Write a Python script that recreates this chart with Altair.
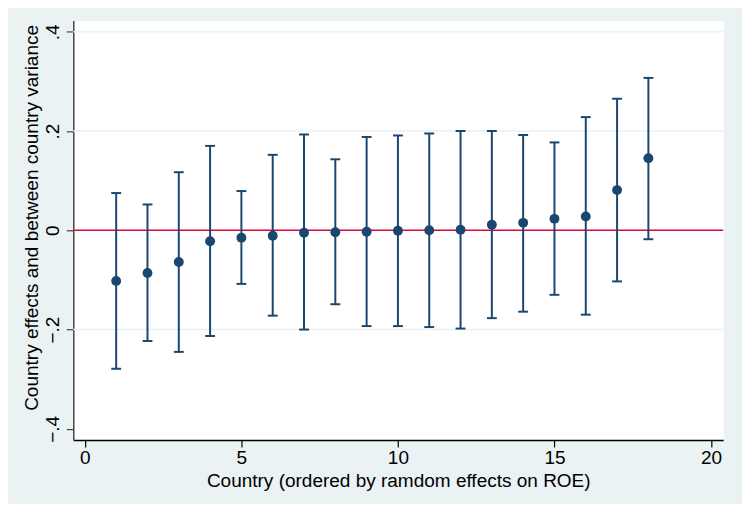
import altair as alt
import pandas as pd

country = list(range(1, 19))
estimate = [-0.102, -0.086, -0.064, -0.022, -0.015, -0.011, -0.005, -0.004, -0.003,
            -0.001, 0.000, 0.001, 0.011, 0.015, 0.023, 0.028, 0.081, 0.145]
lower = [-0.279, -0.223, -0.245, -0.213, -0.108, -0.172, -0.200, -0.149, -0.193,
         -0.193, -0.195, -0.198, -0.177, -0.164, -0.130, -0.170, -0.103, -0.018]
upper = [0.075, 0.052, 0.117, 0.170, 0.079, 0.152, 0.193, 0.143, 0.188,
         0.191, 0.195, 0.200, 0.200, 0.192, 0.177, 0.228, 0.265, 0.307]

x_ticks = [0, 5, 10, 15, 20]
y_ticks = [-0.4, -0.2, 0, 0.2, 0.4]
grid_values = [-0.2, 0.2, 0.4]
ref_value = [0]

df = pd.DataFrame({"country": country, "est": estimate, "lo": lower, "hi": upper})
grid_df = pd.DataFrame({"g": grid_values})
ref_df = pd.DataFrame({"r": ref_value})

NAVY = "#1A476F"
FONT = "Liberation Sans"
FS = 19.2

xscale = alt.Scale(domain=[-0.37, 20.39], nice=False, zero=False)
yscale = alt.Scale(domain=[-0.4225, 0.4225], nice=False, zero=False)

xaxis = alt.Axis(values=x_ticks, title="Country (ordered by ramdom effects on ROE)",
                 grid=False, tickSize=7, labelPadding=17, labelBaseline="alphabetic",
                 titleBaseline="alphabetic", titleY=47, domainColor="#000", tickColor="#000",
                 tickWidth=1.2, domainWidth=1.5, labelFontSize=FS, titleFontSize=FS,
                 labelFont=FONT, titleFont=FONT, labelColor="#000", titleColor="#000",
                 titleFontWeight="normal")
yaxis = alt.Axis(values=y_ticks, title="Country effects and between country variance",
                 grid=False, tickSize=7, labelPadding=8, labelAngle=270,
                 labelAlign="center", labelBaseline="alphabetic",
                 labelExpr="datum.value == 0 ? '0' : replace(format(datum.value, '.1f'), '0.', '.')",
                 titleAngle=270, titleAlign="center", titleBaseline="alphabetic",
                 titleX=-36, titleY=199, domainColor="#444", tickColor="#444",
                 tickWidth=1.2, domainWidth=1.5, labelFontSize=FS, titleFontSize=FS,
                 labelFont=FONT, titleFont=FONT, labelColor="#000", titleColor="#000",
                 titleFontWeight="normal")

base = alt.Chart(df)

grid = alt.Chart(grid_df).mark_rule(color="#EAF2F3", strokeWidth=1.5).encode(
    y=alt.Y("g:Q", scale=yscale, axis=yaxis)
)
ref = alt.Chart(ref_df).mark_rule(color="#DC0A3C", strokeWidth=1.6).encode(
    y=alt.Y("r:Q", scale=yscale)
)
bars = base.mark_rule(color=NAVY, strokeWidth=2).encode(
    x=alt.X("country:Q", scale=xscale, axis=xaxis),
    y=alt.Y("lo:Q", scale=yscale),
    y2="hi:Q",
)
cap_lo = base.mark_tick(orient="horizontal", size=10, thickness=2, color=NAVY, opacity=1).encode(
    x=alt.X("country:Q", scale=xscale), y=alt.Y("lo:Q", scale=yscale)
)
cap_hi = base.mark_tick(orient="horizontal", size=10, thickness=2, color=NAVY, opacity=1).encode(
    x=alt.X("country:Q", scale=xscale), y=alt.Y("hi:Q", scale=yscale)
)
pts = base.mark_circle(color=NAVY, size=100, opacity=1).encode(
    x=alt.X("country:Q", scale=xscale), y=alt.Y("est:Q", scale=yscale)
)

chart = alt.layer(grid, ref, bars, cap_lo, cap_hi, pts).properties(
    width=657, height=424, autosize="none",
    padding={"left": 66, "top": 10, "right": 19, "bottom": 62},
    background="#EAF2F3",
).configure_view(fill="white", strokeOpacity=0)

chart.save("out.html", embed_options={"renderer": "svg", "actions": False})
